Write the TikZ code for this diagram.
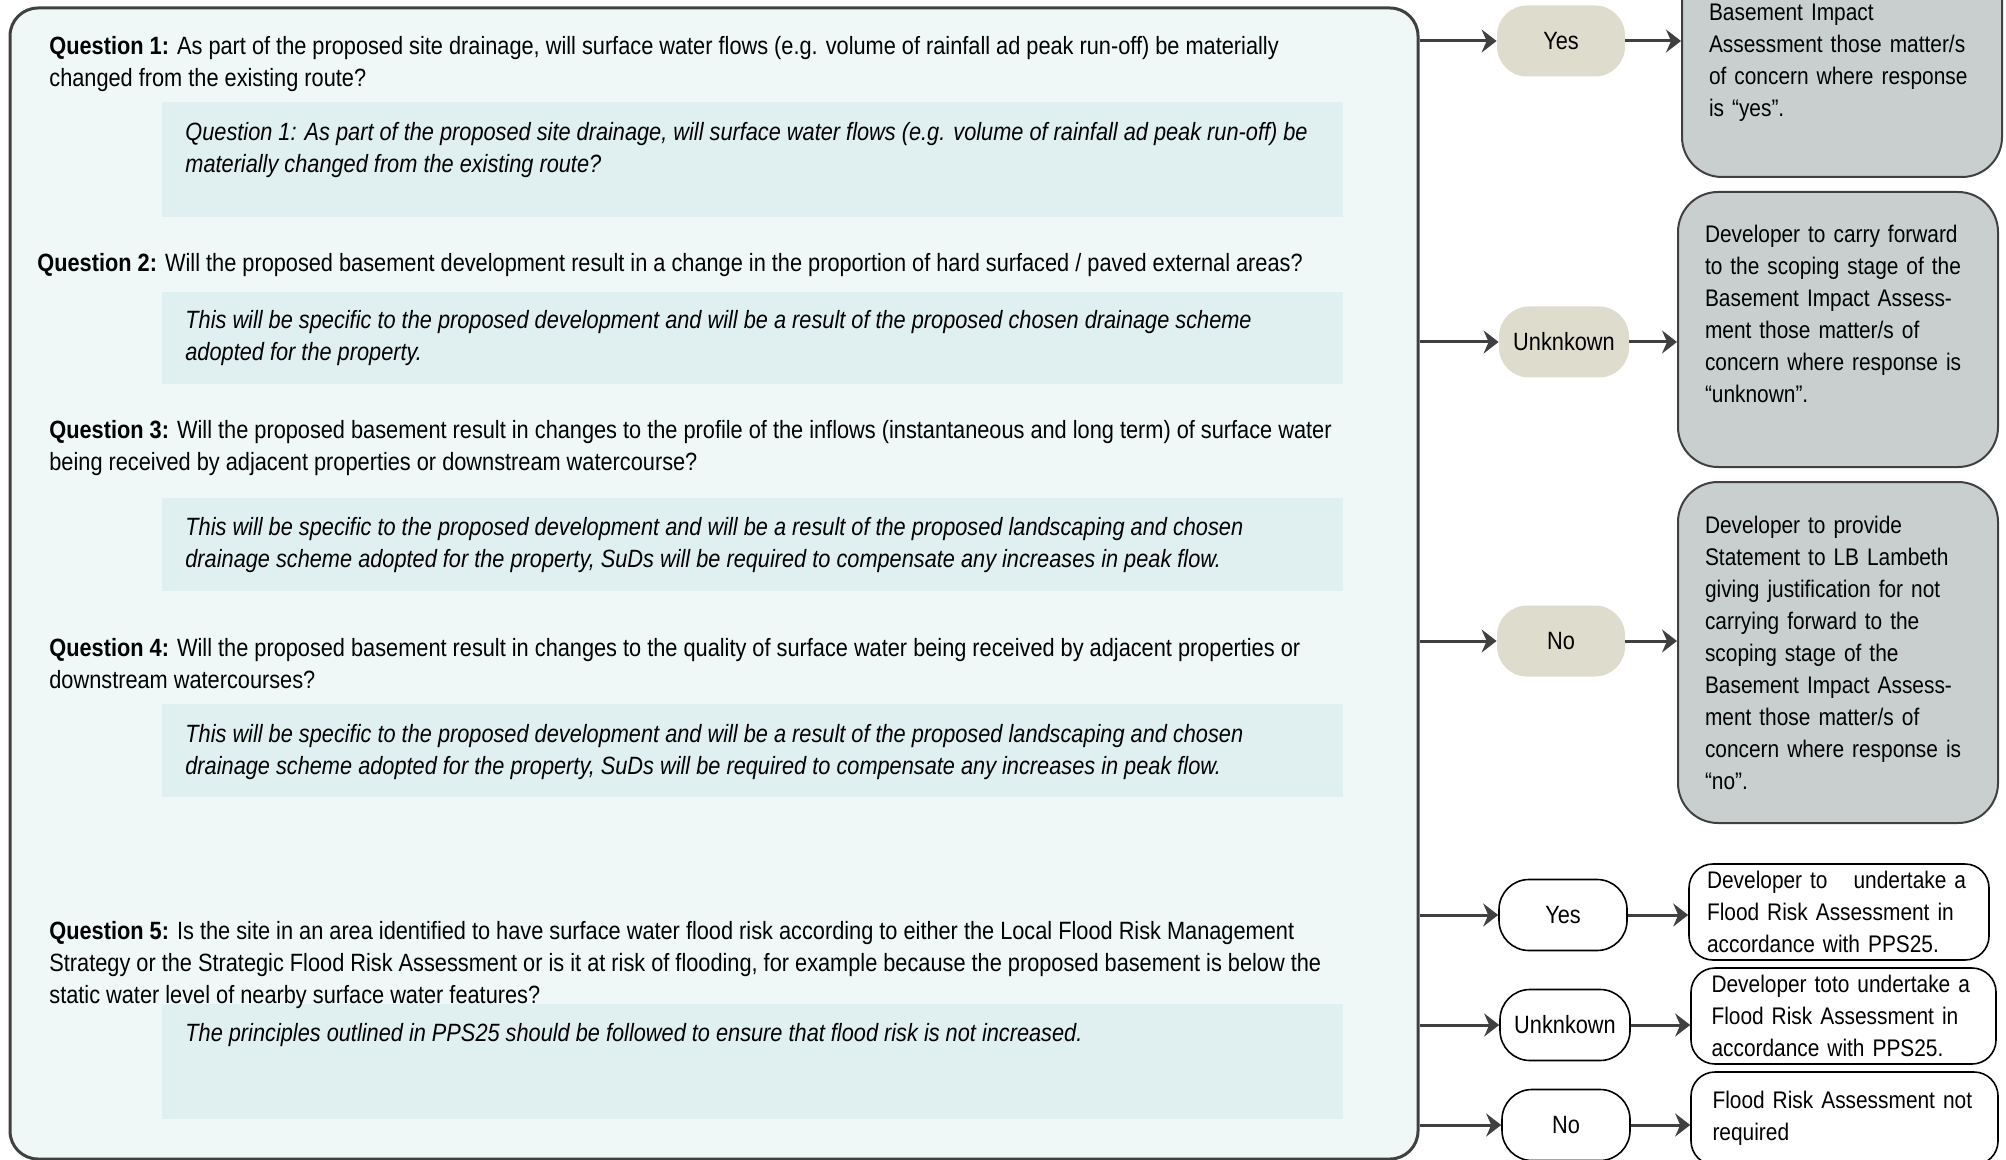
\documentclass[tikz,border=0pt]{standalone}
\usepackage{fontspec}
\setmainfont[FakeStretch=0.87]{Liberation Sans}
\usetikzlibrary{arrows.meta}

\definecolor{panelfill}{HTML}{EFF8F7}
\definecolor{hintfill}{HTML}{E0EFEF}
\definecolor{pillfill}{HTML}{DEDCCD}
\definecolor{outfill}{HTML}{C9CFCF}
\definecolor{framegrey}{HTML}{404040}

\newcommand{\diagfont}{\fontsize{12.5}{16}\selectfont}
\newcommand{\outfont}{\fontsize{12}{16}\selectfont}

\tikzset{
  panel/.style={draw=framegrey, line width=1.5pt, fill=panelfill, rounded corners=14pt},
  hintbox/.style={fill=hintfill},
  question/.style={anchor=west, align=left, inner sep=0pt, font=\diagfont},
  hint/.style={anchor=west, align=left, inner sep=0pt, font=\diagfont\itshape},
  answer/.style={fill=pillfill, rounded corners=15pt, minimum width=64pt, minimum height=35.5pt, inner sep=0pt, font=\diagfont},
  answerw/.style={answer, draw=black, line width=0.8pt, fill=white},
  outcome/.style={draw=framegrey, line width=1pt, fill=outfill, rounded corners=20pt, align=left, text width=133pt, inner xsep=13.5pt, inner ysep=0pt, font=\outfont},
  outcomew/.style={outcome, draw=black, line width=0.8pt, fill=white, rounded corners=12pt, text width=132pt, inner xsep=9pt},
  flow/.style={draw=framegrey, line width=1.5pt, -{Stealth[length=7.5pt,width=11.5pt,inset=2.5pt]}}
}

\begin{document}
\begin{tikzpicture}[x=0.5pt, y=-0.5pt]
    \useasboundingbox (0,0) rectangle (2006,1160);

    % Draw the question panel
    \node[panel, minimum width=704pt, minimum height=575.5pt] (panel) at (714,583.5) {};

    % Shaded notes under each question
    \fill[hintbox] (162,102) rectangle (1343,217);
    \fill[hintbox] (162,292) rectangle (1343,384);
    \fill[hintbox] (162,498) rectangle (1343,591);
    \fill[hintbox] (162,704) rectangle (1343,797);
    \fill[hintbox] (162,1004) rectangle (1343,1119);

    % Questions
    \node[question] (q1) at (49,64) {\textbf{Question 1:} As part of the proposed site drainage, will surface water flows (e.g. volume of rainfall ad peak run-off) be materially\\changed from the existing route?};
    \node[question] (q2) at (37,265) {\textbf{Question 2:} Will the proposed basement development result in a change in the proportion of hard surfaced / paved external areas?};
    \node[question] (q3) at (49,448) {\textbf{Question 3:} Will the proposed basement result in changes to the profile of the inflows (instantaneous and long term) of surface water\\being received by adjacent properties or downstream watercourse?};
    \node[question] (q4) at (49,664) {\textbf{Question 4:} Will the proposed basement result in changes to the quality of surface water being received by adjacent properties or\\downstream watercourses?};
    \node[question] (q5) at (49,965) {\textbf{Question 5:} Is the site in an area identified to have surface water flood risk according to either the Local Flood Risk Management\\Strategy or the Strategic Flood Risk Assessment or is it at risk of flooding, for example because the proposed basement is below the\\static water level of nearby surface water features?};

    % Notes
    \node[hint] (h1) at (185,150) {Question 1: As part of the proposed site drainage, will surface water flows (e.g. volume of rainfall ad peak run-off) be\\materially changed from the existing route?};
    \node[hint] (h2) at (185,338) {This will be specific to the proposed development and will be a result of the proposed chosen drainage scheme\\adopted for the property.};
    \node[hint] (h3) at (185,545) {This will be specific to the proposed development and will be a result of the proposed landscaping and chosen\\drainage scheme adopted for the property, SuDs will be required to compensate any increases in peak flow.};
    \node[hint] (h4) at (185,752) {This will be specific to the proposed development and will be a result of the proposed landscaping and chosen\\drainage scheme adopted for the property, SuDs will be required to compensate any increases in peak flow.};
    \node[hint] (h5) at (185,1035) {The principles outlined in PPS25 should be followed to ensure that flood risk is not increased.};

    % Answers for questions 1-4
    \node[answer] (yes1) at (1561,41) {Yes};
    \node[answer, minimum width=65pt] (unk1) at (1564,342) {Unknkown};
    \node[answer] (no1) at (1561,641) {No};

    % Answers for question 5
    \node[answerw] (yes2) at (1563,915) {Yes};
    \node[answerw, minimum width=65pt] (unk2) at (1565,1025) {Unknkown};
    \node[answerw] (no2) at (1566,1125) {No};

    % Outcomes
    \node[outcome, minimum height=114pt] (out1) at (1842,63) {Basement Impact\\Assessment those matter/s\\of concern where response\\is “yes”.};
    \node[outcome, minimum height=137.5pt] (out2) at (1838,329.5) {Developer to carry forward\\to the scoping stage of the\\Basement Impact Assess-\\ment those matter/s of\\concern where response is\\“unknown”.\rule[-16pt]{0pt}{16pt}};
    \node[outcome, minimum height=170.5pt] (out3) at (1838,652.5) {Developer to provide\\Statement to LB Lambeth\\giving justification for not\\carrying forward to the\\scoping stage of the\\Basement Impact Assess-\\ment those matter/s of\\concern where response is\\“no”.};
    \node[outcomew, minimum width=150pt, minimum height=48pt] (out4) at (1839,912) {Developer to\hspace{13pt}undertake a\\Flood Risk Assessment in\\accordance with PPS25.};
    \node[outcomew, minimum width=152.5pt, minimum height=48pt] (out5) at (1843.5,1016) {Developer toto undertake a\\Flood Risk Assessment in\\accordance with PPS25.};
    \node[outcomew, minimum width=153.5pt, minimum height=46.5pt] (out6) at (1844.5,1118.5) {Flood Risk Assessment not\\required};

    % Arrows from the panel to the answers
    \foreach \a in {yes1, unk1, no1, yes2, unk2, no2}
        \draw[flow] (\a.west -| panel.east) -- (\a.west);

    % Arrows from the answers to the outcomes
    \draw[flow] (yes1.east) -- (yes1.east -| out1.west);
    \draw[flow] (unk1.east) -- (unk1.east -| out2.west);
    \draw[flow] (no1.east) -- (no1.east -| out3.west);
    \draw[flow] (yes2.east) -- (yes2.east -| out4.west);
    \draw[flow] (unk2.east) -- (unk2.east -| out5.west);
    \draw[flow] (no2.east) -- (no2.east -| out6.west);
\end{tikzpicture}
\end{document}
